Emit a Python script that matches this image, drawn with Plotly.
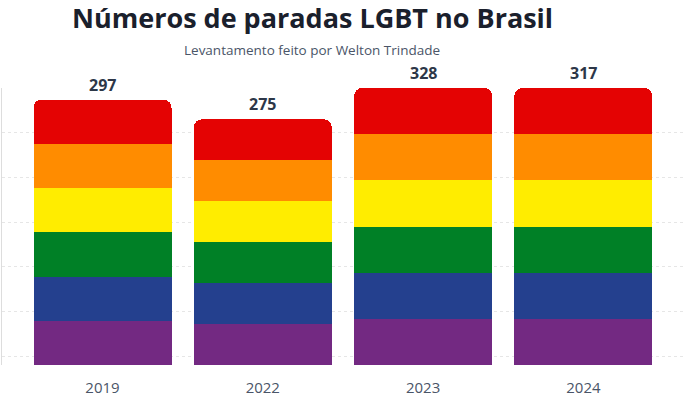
import plotly.graph_objects as go

years = ["2019", "2022", "2023", "2024"]
paradas = [297, 275, 328, 317]
stripe_colors = ["#732982", "#24408e", "#008026", "#ffed00", "#ff8c00", "#e40303"]  # bottom -> top
y_max = 310
grid_ticks = [10, 60, 110, 160, 210, 260, 310]

shown = [min(v, y_max) for v in paradas]

fig = go.Figure()
for c in stripe_colors:
    fig.add_trace(go.Bar(
        x=years, y=[s / len(stripe_colors) for s in shown],
        marker=dict(color=c, line=dict(width=0)),
        width=0.861, hoverinfo="skip", showlegend=False, cliponaxis=False,
    ))

for i, (v, s) in enumerate(zip(paradas, shown)):
    fig.add_annotation(x=i, y=s, xref="x", yref="y", text=f"<b>{v}</b>", showarrow=False,
                       yanchor="bottom", yshift=2,
                       font=dict(family="Open Sans", size=16, color="#2d3748"))

fig.add_annotation(xref="paper", yref="paper", x=0.454, y=1, yshift=71,
                   text="<b>Números de paradas LGBT no Brasil</b>", showarrow=False,
                   yanchor="middle", font=dict(family="Open Sans", size=27, color="#1a202c"))
fig.add_annotation(xref="paper", yref="paper", x=0.454, y=1, yshift=38,
                   text="Levantamento feito por Welton Trindade", showarrow=False,
                   yanchor="middle", font=dict(family="Open Sans", size=13.5, color="#4a5568"))

fig.update_layout(
    width=700, height=399,
    margin=dict(l=2, r=15, t=88, b=34),
    barmode="stack", barcornerradius=8,
    paper_bgcolor="white", plot_bgcolor="white",
    xaxis=dict(type="category", range=[-0.627, 3.634], showgrid=False,
               tickfont=dict(family="Open Sans", size=15, color="#4a5568"),
               ticks="", showline=False, ticklabelstandoff=12),
    yaxis=dict(range=[0, y_max], tickvals=grid_ticks, showticklabels=False,
               gridcolor="#e6e6e6", griddash="dot", gridwidth=1,
               showline=True, linecolor="#dddddd", linewidth=1, zeroline=False),
)

fig.write_html("out.html", config={"displayModeBar": False},
               post_script="document.body.style.margin='0px';")
